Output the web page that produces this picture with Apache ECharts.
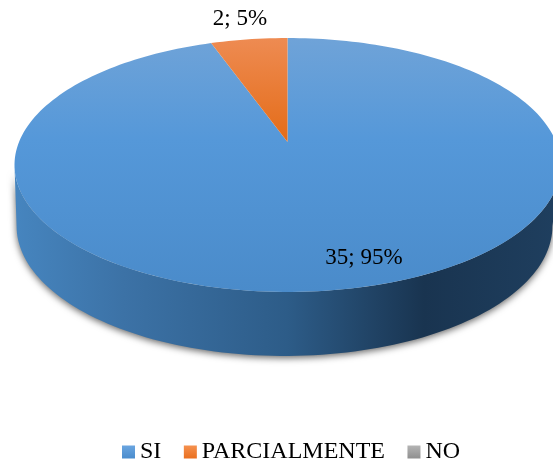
<!DOCTYPE html>
<html>
<head>
<meta charset="utf-8">
<style>
html, body { margin: 0; background: #fff; }
#chart { width: 553px; height: 466px; }
</style>
<script src="https://cdn.jsdelivr.net/npm/echarts@6/dist/echarts.min.js"></script>
</head>
<body>
<div id="chart"></div>
<script>
var categories = ["SI", "PARCIALMENTE", "NO"];
var values = [35, 2, 0];

function vgrad(top, bottom) {
    return { type: "linear", x: 0, y: 0, x2: 0, y2: 1, colorStops: [
        { offset: 0, color: top }, { offset: 1, color: bottom }
    ] };
}

var topColors = [
    { type: "linear", x: 0, y: 0, x2: 0, y2: 1, colorStops: [
        { offset: 0, color: "#6fa3d8" }, { offset: 0.4, color: "#5598d9" }, { offset: 1, color: "#4a8bca" }
    ] },
    vgrad("#ee8b52", "#e46c18"),
    vgrad("#b4b4b4", "#8f8f8f")
];
var legendColors = [vgrad("#6aa5e0", "#4a8ccd"), vgrad("#f5914f", "#ea6f1f"), vgrad("#b4b4b4", "#8f8f8f")];
var wallColor = { type: "linear", x: 0, y: 0, x2: 1, y2: 0, colorStops: [
    { offset: 0, color: "#4685bf" }, { offset: 0.2, color: "#3c72a6" },
    { offset: 0.5, color: "#2d5c88" }, { offset: 0.75, color: "#193450" },
    { offset: 1, color: "#1f3f5f" }
] };

// perspective of the disc: top face and bottom rim
var tilt = 0.181;
var topFace = { cx: 287.5, cy: 142, kx: 268.5, ky: 122.8 };
var bottomFace = { cx: 284.5, cy: 202.5, kx: 263.5, ky: 125.7 };
var labelSpots = [[364, 258], [240, 19], null];

var total = values.reduce(function (a, b) { return a + b; }, 0);

function project(face, deg) {
    var a = deg * Math.PI / 180;
    var u = Math.sin(a), v = Math.cos(a);
    var w = 1 + tilt * v;
    return [face.cx + face.kx * u / w, face.cy - face.ky * v / w];
}

function rim(face, from, to) {
    var pts = [];
    var n = Math.max(2, Math.ceil(Math.abs(to - from) / 1.5));
    for (var i = 0; i <= n; i++) {
        pts.push(project(face, from + (to - from) * i / n));
    }
    return pts;
}

function renderSlice(idx) {
    return function (params, api) {
        var before = 0;
        for (var i = 0; i < idx; i++) before += values[i];
        var start = before / total * 360;
        var end = (before + api.value(0)) / total * 360;
        var children = [];
        if (end <= start) return { type: "group", children: children };

        // front wall, only the part between the two tangents of the disc
        var tangent = Math.acos(-tilt) * 180 / Math.PI;
        var a = Math.max(start, tangent), b = Math.min(end, 360 - tangent);
        if (b > a) {
            children.push({
                type: "polygon",
                z2: 1,
                shape: { points: rim(topFace, a, b).concat(rim(bottomFace, b, a)) },
                style: { fill: wallColor, shadowBlur: 7, shadowColor: "rgba(0,0,0,0.6)", shadowOffsetY: 2 }
            });
        }

        children.push({
            type: "polygon",
            z2: 2,
            shape: { points: [[topFace.cx, topFace.cy]].concat(rim(topFace, start, end)) },
            style: { fill: topColors[idx] }
        });

        if (labelSpots[idx]) {
            children.push({
                type: "text",
                z2: 3,
                style: {
                    x: labelSpots[idx][0],
                    y: labelSpots[idx][1],
                    text: api.value(0) + "; " + Math.round(api.value(0) / total * 100) + "%",
                    font: "23px 'Liberation Serif'",
                    fill: "#000",
                    align: "center",
                    verticalAlign: "middle"
                }
            });
        }
        return { type: "group", children: children };
    };
}

var chart = echarts.init(document.getElementById("chart"), null, { renderer: "canvas" });

chart.setOption({
    animation: false,
    legend: {
        left: 117,
        top: 435,
        itemWidth: 13,
        itemHeight: 13,
        itemGap: 22.5,
        icon: "rect",
        selectedMode: false,
        textStyle: { fontFamily: "Liberation Serif", fontSize: 24, color: "#000" },
        data: categories
    },
    series: categories.map(function (name, i) {
        return {
            type: "custom",
            name: name,
            coordinateSystem: "none",
            clip: false,
            itemStyle: { color: legendColors[i] },
            renderItem: renderSlice(i),
            data: [[values[i]]]
        };
    })
});
</script>
</body>
</html>
